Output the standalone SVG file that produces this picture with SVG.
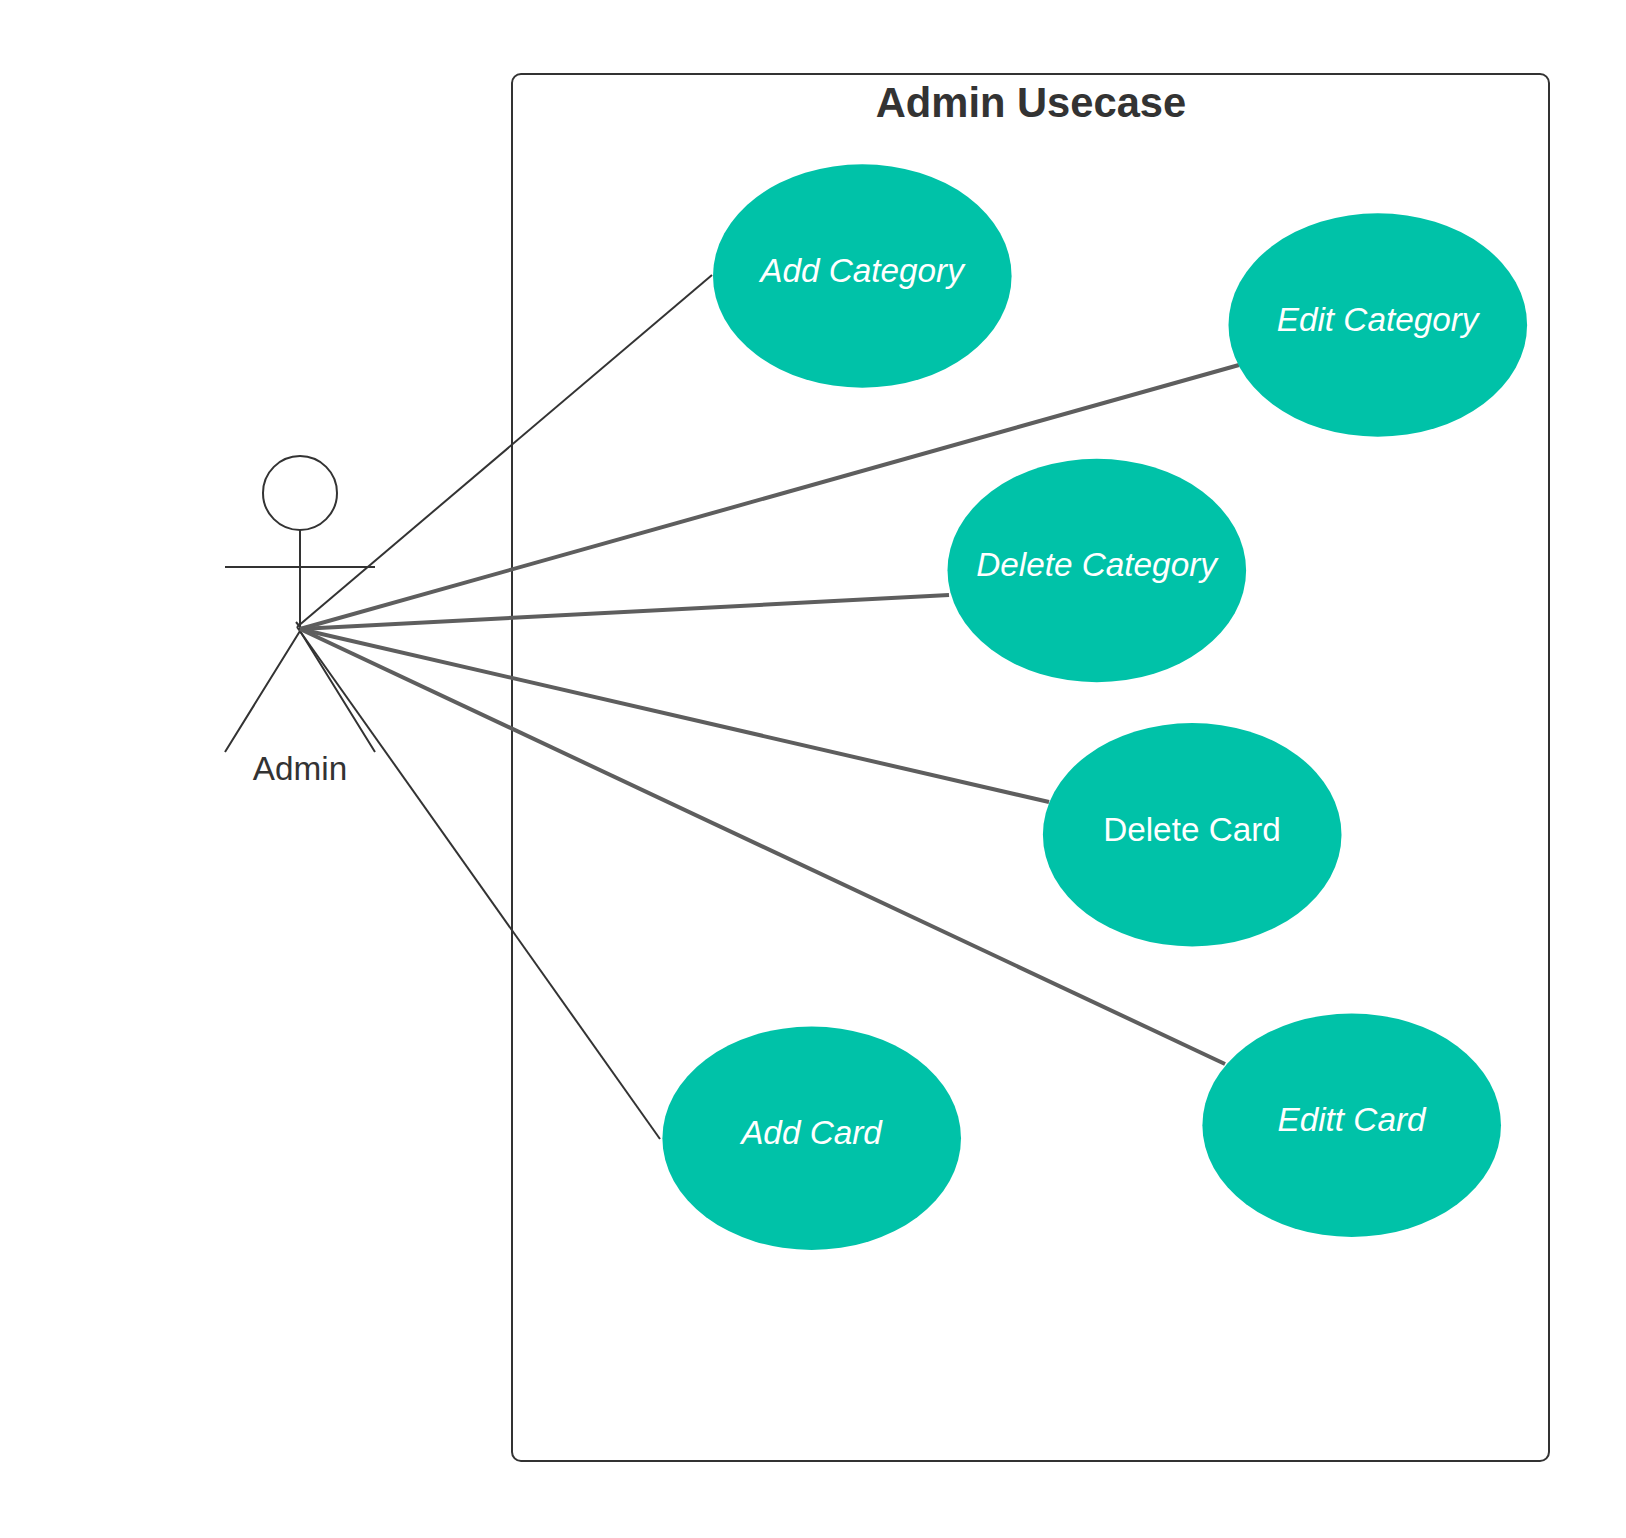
<svg xmlns="http://www.w3.org/2000/svg" width="1626" height="1538" viewBox="0 0 1626 1538">
<style>
.usecase{fill:#00c2a8}
.t{font-family:"Liberation Sans",Arial,sans-serif;font-size:33.3px;text-anchor:middle;fill:#fff}
.i{font-style:italic}
.thin{stroke:#333;stroke-width:2;fill:none}
.thick{stroke:#5e5e5e;stroke-width:4;fill:none}
</style>
<rect width="1626" height="1538" fill="#fff"/>
<g id="system">
<rect x="512" y="74" width="1037" height="1387" rx="9" fill="#fff" stroke="#333" stroke-width="2"/>
<text x="1031" y="117" font-family="'Liberation Sans',Arial,sans-serif" font-size="41.7" font-weight="700" text-anchor="middle" fill="#333">Admin Usecase</text>
</g>
<g id="actor" class="thin">
<circle cx="300" cy="493" r="37"/>
<path d="M300 530V633M225 567H375M300 631L225 752M300 631L375 752"/>
<text x="300" y="780" font-family="'Liberation Sans',Arial,sans-serif" font-size="33.3" text-anchor="middle" fill="#333" stroke="none">Admin</text>
</g>
<g id="connectors">
<path class="thin" d="M297 627L712 275"/>
<path class="thin" d="M297 627L660 1139"/>
<path class="thin" d="M296 622L301 628"/>
<path class="thick" d="M300 629L1239 365"/>
<path class="thick" d="M300 629L949 595"/>
<path class="thick" d="M300 629L1049 802"/>
<path class="thick" d="M300 629L1225 1064"/>
</g>
<g id="add-category"><ellipse class="usecase" cx="862.300" cy="276" rx="149.300" ry="111.700"/><text class="t i" x="862" y="282">Add Category</text></g>
<g id="edit-category"><ellipse class="usecase" cx="1377.800" cy="325" rx="149.300" ry="111.700"/><text class="t i" x="1377.600" y="331">Edit Category</text></g>
<g id="delete-category"><ellipse class="usecase" cx="1096.800" cy="570.500" rx="149.300" ry="111.700"/><text class="t i" x="1096.600" y="576">Delete Category</text></g>
<g id="delete-card"><ellipse class="usecase" cx="1192.200" cy="834.700" rx="149.300" ry="111.700"/><text class="t" x="1192" y="840.500">Delete Card</text></g>
<g id="add-card"><ellipse class="usecase" cx="811.700" cy="1138.200" rx="149.300" ry="111.700"/><text class="t i" x="811.500" y="1144">Add Card</text></g>
<g id="editt-card"><ellipse class="usecase" cx="1351.700" cy="1125.200" rx="149.300" ry="111.700"/><text class="t i" x="1351.500" y="1131">Editt Card</text></g>
</svg>
